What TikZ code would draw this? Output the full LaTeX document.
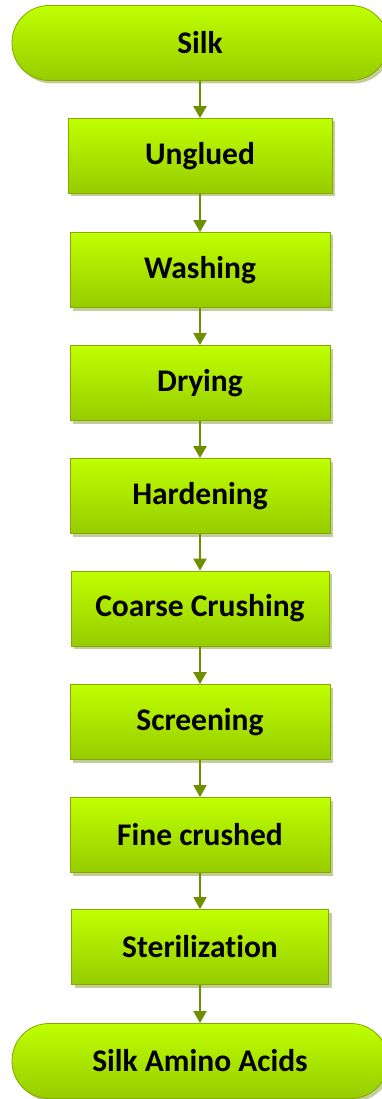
\documentclass[tikz,border=0pt]{standalone}
\usepackage{fontspec}
\setmainfont[Ligatures=NoCommon]{Carlito}
\usetikzlibrary{shadows,arrows.meta}
\definecolor{topg}{HTML}{BFFF00}
\definecolor{botg}{HTML}{96CC00}
\definecolor{edgeg}{HTML}{86A800}
\definecolor{arrg}{HTML}{6E9000}
\definecolor{shad}{HTML}{A8B870}
\tikzset{
  base/.style={draw=edgeg, line width=0.8pt, top color=topg, bottom color=botg,
    font=\bfseries\fontsize{31.5}{36}\selectfont, text=black,
    drop shadow={shadow xshift=3pt, shadow yshift=-3pt, fill=shad, opacity=0.7}},
  procbox/.style={base, rectangle, minimum width=260pt, minimum height=75pt, inner sep=0pt},
  term/.style={base, rounded corners=37pt, minimum width=376pt, minimum height=75pt, inner sep=0pt},
  conn/.style={draw=arrg, line width=2.2pt, -{Triangle[length=12pt,width=13pt]}}
}
\begin{document}
\begin{tikzpicture}[x=1pt,y=1pt]
\useasboundingbox (0,0) rectangle (382,-1099);
\begin{scope}
\clip (0,0) rectangle (382,-1099);
\node[term] (n0) at (200,-43) {Silk};
\node[procbox, minimum width=264pt] (n1) at (200,-156) {Unglued};
\node[procbox] (n2) at (200,-270) {Washing};
\node[procbox] (n3) at (200,-383) {Drying};
\node[procbox] (n4) at (200,-496) {Hardening};
\node[procbox, minimum width=258pt] (n5) at (200,-608.5) {Coarse Crushing};
\node[procbox] (n6) at (200,-722) {Screening};
\node[procbox] (n7) at (200,-835) {Fine crushed};
\node[procbox, minimum width=257pt] (n8) at (200,-947) {Sterilization};
\node[term] (n9) at (200,-1061) {Silk Amino Acids};
\foreach \a/\b in {n0/n1,n1/n2,n2/n3,n3/n4,n4/n5,n5/n6,n6/n7,n7/n8,n8/n9}
  \draw[conn] (\a) -- (\b);
\end{scope}
\end{tikzpicture}
\end{document}
